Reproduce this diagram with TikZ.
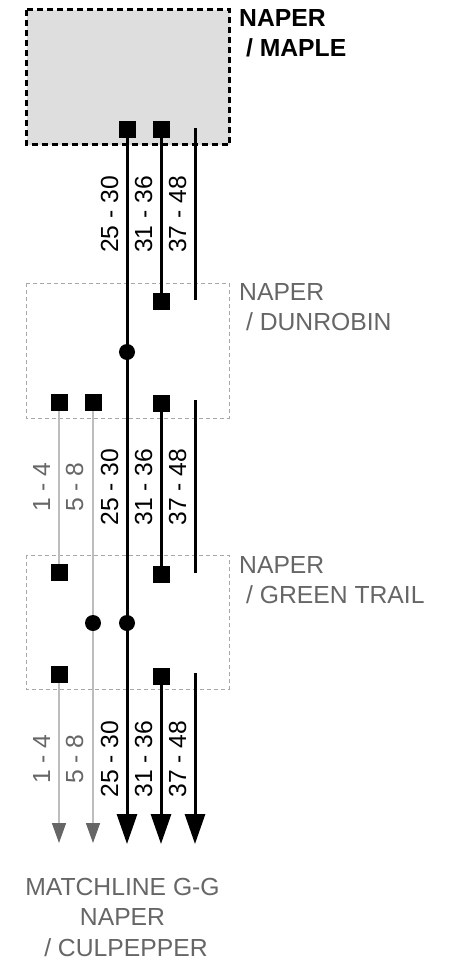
\documentclass[tikz,border=0pt]{standalone}
\usepackage{fontspec}
\setmainfont{Liberation Sans}
\usetikzlibrary{arrows.meta}
\definecolor{boxfill}{HTML}{DEDEDE}
\definecolor{txtgray}{HTML}{666666}
\definecolor{linegray}{HTML}{BDBDBD}
\definecolor{tipgray}{HTML}{666666}
\definecolor{dashgray}{HTML}{A8A8A8}
\pgfdeclarelayer{bg}
\pgfdeclarelayer{lines}
\pgfsetlayers{bg,lines,main}
\tikzset{
  sq/.style={fill=black,draw=none,minimum size=17pt,inner sep=0pt,rectangle},
  dot/.style={fill=black,draw=none,minimum size=16pt,inner sep=0pt,circle},
  bline/.style={line width=3pt,black},
  gline/.style={line width=1.5pt,linegray},
  barrow/.style={bline,-{Triangle[length=30pt,width=20pt]}},
  garrow/.style={gline,-{Triangle[length=20pt,width=14pt,color=tipgray]}},
  lbl/.style={rotate=90,anchor=base,inner sep=0pt,font=\fontsize{24.7}{30}\selectfont},
  blbl/.style={lbl,text=black},
  glbl/.style={lbl,text=txtgray},
  place/.style={anchor=base west,inner sep=0pt,align=left,font=\fontsize{24.7}{30}\selectfont},
  thinbox/.style={draw=dashgray,line width=1pt,dash pattern=on 4pt off 3pt},
}
\begin{document}
\begin{tikzpicture}[x=1pt,y=-1pt]
\useasboundingbox (0,0) rectangle (466,960);
% boxes
\begin{pgfonlayer}{bg}
\draw[fill=boxfill,line width=3pt,dash pattern=on 6pt off 4pt] (26.5,10) rectangle (229.5,145);
\draw[thinbox] (26,283) rectangle (229,418);
\draw[thinbox] (26,555) rectangle (229,689);
\end{pgfonlayer}
% terminals
\node[sq] (t25) at (127,130) {};
\node[sq] (t31) at (161,130) {};
\node[sq] (d31a) at (161,301) {};
\node[dot] (d25) at (127,352) {};
\node[sq] (d1) at (59,402) {};
\node[sq] (d5) at (93,402) {};
\node[sq] (d31b) at (161,403) {};
\node[sq] (g1a) at (59,572) {};
\node[sq] (g31a) at (161,574) {};
\node[dot] (g5) at (93,623) {};
\node[dot] (g25) at (127,623) {};
\node[sq] (g1b) at (59,674) {};
\node[sq] (g31b) at (161,676) {};
\coordinate (c37a) at (195,128);
\coordinate (c37b) at (195,300);
\coordinate (c37c) at (195,400);
\coordinate (c37d) at (195,573);
\coordinate (c37e) at (195,673);
\coordinate (e1) at (59,843);
\coordinate (e5) at (93,843);
\coordinate (e25) at (127,844);
\coordinate (e31) at (161,844);
\coordinate (e37) at (195,844);
% connectors
\begin{pgfonlayer}{lines}
\draw[barrow] (t25.center) -- (e25);
\draw[bline] (t31.center) -- (d31a.center);
\draw[bline] (d31b.center) -- (g31a.center);
\draw[barrow] (g31b.center) -- (e31);
\draw[bline] (c37a) -- (c37b);
\draw[bline] (c37c) -- (c37d);
\draw[barrow] (c37e) -- (e37);
\draw[gline] (d1.center) -- (g1a.center);
\draw[garrow] (g1b.center) -- (e1);
\draw[garrow] (d5.center) -- (e5);
\end{pgfonlayer}
% cable labels
\node[blbl] (l25a) at (118,214.5) {25 - 30};
\node[blbl] (l31a) at (152,214.5) {31 - 36};
\node[blbl] (l37a) at (186,214.5) {37 - 48};
\node[glbl] (l1b) at (50,487) {1 - 4};
\node[glbl] (l5b) at (83,487) {5 - 8};
\node[blbl] (l25b) at (118,487) {25 - 30};
\node[blbl] (l31b) at (152,487) {31 - 36};
\node[blbl] (l37b) at (186,487) {37 - 48};
\node[glbl] (l1c) at (50,759) {1 - 4};
\node[glbl] (l5c) at (83,759) {5 - 8};
\node[blbl] (l25c) at (118,759) {25 - 30};
\node[blbl] (l31c) at (152,759) {31 - 36};
\node[blbl] (l37c) at (186,759) {37 - 48};
% place labels (base anchor = last line's baseline)
\node[place,font=\fontsize{24.7}{30}\selectfont\bfseries] (pmaple) at (239,57) {NAPER\\\hspace*{6.9pt}/ MAPLE};
\node[place,text=txtgray] (pdun) at (239,330) {NAPER\\\hspace*{6.9pt}/ DUNROBIN};
\node[place,text=txtgray] (pgreen) at (239,603) {NAPER\\\hspace*{6.9pt}/ GREEN TRAIL};
\node[anchor=base,inner sep=0pt,align=center,text=txtgray,font=\fontsize{24.7}{30.5}\selectfont] (pcul) at (122.5,956) {MATCHLINE G-G\\NAPER\\\hspace*{6.9pt}/ CULPEPPER};
\end{tikzpicture}
\end{document}
